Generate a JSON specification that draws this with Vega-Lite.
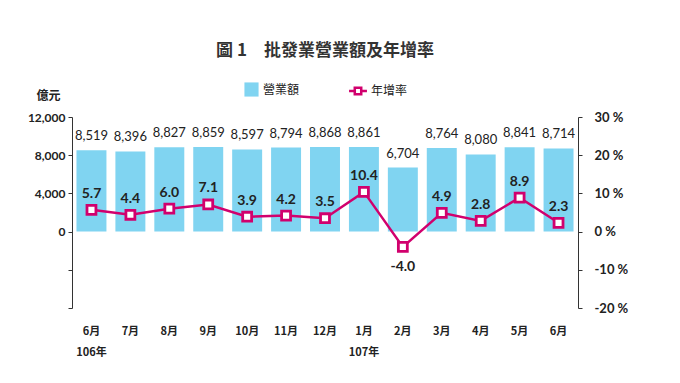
{
  "$schema": "https://vega.github.io/schema/vega-lite/v6.json",
  "width": 506,
  "height": 191,
  "autosize": {"type": "none"},
  "padding": {"left": 72, "top": 117, "right": 102, "bottom": 75},
  "background": "white",
  "title": {
    "text": "圖 1　批發業營業額及年增率",
    "font": "Noto Sans CJK TC",
    "fontSize": 17,
    "fontWeight": "bold",
    "color": "#333333",
    "anchor": "middle",
    "frame": "group",
    "orient": "top",
    "offset": 22
  },
  "config": {
    "locale": {"number": {"decimal": ".", "thousands": ",", "grouping": [3], "currency": ["$", ""], "minus": "-"}},
    "view": {"stroke": null},
    "font": "Lato",
    "axis": {"labelFont": "Lato", "labelColor": "#222222", "grid": false},
    "legend": {"labelFont": "Noto Sans CJK TC", "labelFontSize": 12, "labelColor": "#222222"}
  },
  "data": {
    "values": [
      {"key": "106年6月", "sales": 8519, "growth": 5.7},
      {"key": "106年7月", "sales": 8396, "growth": 4.4},
      {"key": "106年8月", "sales": 8827, "growth": 6.0},
      {"key": "106年9月", "sales": 8859, "growth": 7.1},
      {"key": "106年10月", "sales": 8597, "growth": 3.9},
      {"key": "106年11月", "sales": 8794, "growth": 4.2},
      {"key": "106年12月", "sales": 8868, "growth": 3.5},
      {"key": "107年1月", "sales": 8861, "growth": 10.4},
      {"key": "107年2月", "sales": 6704, "growth": -4.0},
      {"key": "107年3月", "sales": 8764, "growth": 4.9},
      {"key": "107年4月", "sales": 8080, "growth": 2.8},
      {"key": "107年5月", "sales": 8841, "growth": 8.9},
      {"key": "107年6月", "sales": 8714, "growth": 2.3}
    ]
  },
  "encoding": {
    "x": {
      "field": "key",
      "type": "nominal",
      "sort": null,
      "scale": {"paddingInner": 0.23, "paddingOuter": 0.115},
      "axis": {
        "title": null,
        "domain": false,
        "ticks": false,
        "labelAngle": 0,
        "labelPadding": 17,
        "labelFont": "Noto Sans CJK TC",
        "labelFontSize": 11,
        "labelFontWeight": "bold",
        "labelLineHeight": 21,
        "labelExpr": "datum.value == '106年6月' ? ['6月', '106年'] : datum.value == '107年1月' ? ['1月', '107年'] : split(datum.value, '年')[1]"
      }
    }
  },
  "layer": [
    {
      "mark": {"type": "bar"},
      "encoding": {
        "y": {
          "field": "sales",
          "type": "quantitative",
          "scale": {"domain": [-8000, 12000], "nice": false},
          "axis": {
            "orient": "left",
            "values": [-8000, -4000, 0, 4000, 8000, 12000],
            "labelExpr": "datum.value >= 0 ? format(datum.value, ',') : ''",
            "labelFontSize": 12,
            "labelFontWeight": "bold",
            "labelPadding": 3,
            "tickSize": 4,
            "tickColor": "#333333",
            "domainColor": "#333333",
            "title": "億元",
            "titleFont": "Noto Sans CJK TC",
            "titleFontSize": 12,
            "titleFontWeight": "bold",
            "titleColor": "#222222",
            "titleAngle": 0,
            "titleAlign": "center",
            "titleBaseline": "middle",
            "titleX": -24,
            "titleY": -22
          }
        },
        "fill": {
          "datum": "營業額",
          "type": "nominal",
          "scale": {"range": ["#80d4f1"]},
          "legend": {
            "title": null,
            "orient": "none",
            "legendX": 172,
            "legendY": -35,
            "symbolType": "square",
            "symbolSize": 200,
            "symbolStrokeWidth": 0
          }
        }
      }
    },
    {
      "mark": {"type": "text", "baseline": "bottom", "dy": -7, "fontSize": 13, "color": "#222222", "font": "Lato"},
      "encoding": {
        "y": {"field": "sales", "type": "quantitative", "scale": {"domain": [-8000, 12000], "nice": false}, "axis": null},
        "text": {"field": "sales", "type": "quantitative", "format": ","}
      }
    },
    {
      "mark": {"type": "rule", "color": "#333333", "strokeWidth": 1},
      "encoding": {
        "y": {"datum": 0, "type": "quantitative", "scale": {"domain": [-8000, 12000], "nice": false}, "axis": null}
      }
    },
    {
      "mark": {"type": "line", "strokeWidth": 2.5},
      "encoding": {
        "y": {
          "field": "growth",
          "type": "quantitative",
          "scale": {"domain": [-20, 30], "nice": false},
          "axis": {
            "orient": "right",
            "values": [-20, -10, 0, 10, 20, 30],
            "labelExpr": "datum.value + ' %'",
            "labelFontSize": 13,
            "labelFontWeight": "bold",
            "labelPadding": 12,
            "tickSize": 4,
            "tickColor": "#333333",
            "domainColor": "#333333",
            "title": null
          }
        },
        "stroke": {
          "datum": "年增率",
          "type": "nominal",
          "scale": {"range": ["#d1006d"]},
          "legend": {
            "title": null,
            "orient": "none",
            "legendX": 277,
            "legendY": -35,
            "symbolType": "M-1,-0.13H-0.5V-0.5H0.5V-0.13H1V0.13H0.5V0.5H-0.5V0.13H-1Z M-0.22,-0.22V0.22H0.22V-0.22Z",
            "symbolFillColor": "#d1006d",
            "symbolStrokeWidth": 0,
            "symbolSize": 320
          }
        }
      }
    },
    {
      "mark": {"type": "point", "shape": "square", "size": 80, "filled": true, "fill": "white", "stroke": "#d1006d", "strokeWidth": 2.8, "opacity": 1},
      "encoding": {
        "y": {"field": "growth", "type": "quantitative", "scale": {"domain": [-20, 30], "nice": false}, "axis": null}
      }
    },
    {
      "transform": [{"filter": "datum.growth >= 0"}],
      "mark": {"type": "text", "baseline": "bottom", "dy": -9, "fontSize": 14, "fontWeight": "bold", "color": "#222222", "font": "Lato"},
      "encoding": {
        "y": {"field": "growth", "type": "quantitative", "scale": {"domain": [-20, 30], "nice": false}, "axis": null},
        "text": {"field": "growth", "type": "quantitative", "format": ".1f"}
      }
    },
    {
      "transform": [{"filter": "datum.growth < 0"}],
      "mark": {"type": "text", "baseline": "top", "dy": 13, "fontSize": 14, "fontWeight": "bold", "color": "#222222", "font": "Lato"},
      "encoding": {
        "y": {"field": "growth", "type": "quantitative", "scale": {"domain": [-20, 30], "nice": false}, "axis": null},
        "text": {"field": "growth", "type": "quantitative", "format": ".1f"}
      }
    }
  ],
  "resolve": {"scale": {"y": "independent"}}
}
